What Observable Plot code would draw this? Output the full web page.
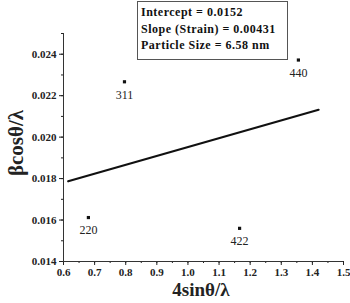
<!DOCTYPE html>
<html><head><meta charset="utf-8">
<script src="https://cdn.jsdelivr.net/npm/d3@7"></script>
<script src="https://cdn.jsdelivr.net/npm/@observablehq/plot@0.6"></script>
<style>
body{margin:0;background:#fff;}
#wrap{position:relative;width:350px;height:303px;}
#box{position:absolute;left:137px;top:1px;width:146px;height:55px;border:1px solid #555;background:#fff;
font:bold 12px "Liberation Serif",serif;color:#111;padding:2px 0 0 3px;line-height:16.5px;white-space:nowrap;letter-spacing:0.5px;}
</style></head><body>
<div id="wrap"><div id="chart"></div><div id="box"></div></div>
<script>
const planes = ["220","311","422","440"];
const xVals = [0.680, 0.796, 1.166, 1.355];
const yVals = [0.01612, 0.02267, 0.01560, 0.02372];
const fitX = [0.615, 1.42];
const fitY = [0.01787, 0.02132];
const boxLines = ["Intercept = 0.0152","Slope (Strain) = 0.00431","Particle Size = 6.58 nm"];
const xTicks = [0.6,0.7,0.8,0.9,1.0,1.1,1.2,1.3,1.4,1.5];
const yTicks = [0.014,0.016,0.018,0.020,0.022,0.024];

const pts = planes.map((p,i)=>({p, x:xVals[i], y:yVals[i]}));
const fit = fitX.map((x,i)=>({x, y:fitY[i]}));
const xMinor = d3.range(0.6, 1.5001, 0.05);
const yMinor = d3.range(0.014, 0.0250001, 0.001);

const plot = Plot.plot({
  width:350, height:303,
  marginLeft:63, marginRight:7, marginTop:33, marginBottom:42,
  style:{fontFamily:"Liberation Serif, serif", fontWeight:"bold", fontSize:"11px", color:"#222", background:"#fff"},
  x:{domain:[0.6,1.5]},
  y:{domain:[0.014,0.025]},
  marks:[
    Plot.axisX({ticks:xMinor, tickSize:2, tickFormat:()=>"", label:null}),
    Plot.axisX({ticks:xTicks, tickSize:4, tickPadding:3, tickFormat:d=>d.toFixed(1), label:null}),
    Plot.axisY({ticks:yMinor, tickSize:2, tickFormat:()=>"", label:null}),
    Plot.axisY({ticks:yTicks, tickSize:4, tickPadding:3, tickFormat:d=>d.toFixed(3), label:null}),
    Plot.ruleX([0.6], {y1:0.014, y2:0.025, stroke:"#333"}),
    Plot.ruleY([0.014], {stroke:"#333"}),
    Plot.line(fit, {x:"x", y:"y", stroke:"#111", strokeWidth:2.2}),
    Plot.dot(pts, {x:"x", y:"y", symbol:"square", r:1.8, fill:"#111"}),
    Plot.text(pts, {x:"x", y:"y", text:"p", dy:13, fontSize:12, fontWeight:"normal", fill:"#222"})
  ]
});
document.getElementById("chart").append(plot);
const svg = d3.select(plot);
svg.append("text").attr("x",201).attr("y",296).attr("text-anchor","middle")
  .attr("font-size","19px").attr("font-weight","bold").attr("font-family","Liberation Serif, serif").attr("fill","#222")
  .text("4sinθ/λ");
svg.append("text").attr("transform","translate(23,143) rotate(-90)").attr("text-anchor","middle")
  .attr("font-size","21px").attr("font-weight","bold").attr("font-family","Liberation Serif, serif").attr("fill","#222")
  .text("βcosθ/λ");
document.getElementById("box").innerHTML = boxLines.map(s=>"<div>"+s+"</div>").join("");
</script>
</body></html>
